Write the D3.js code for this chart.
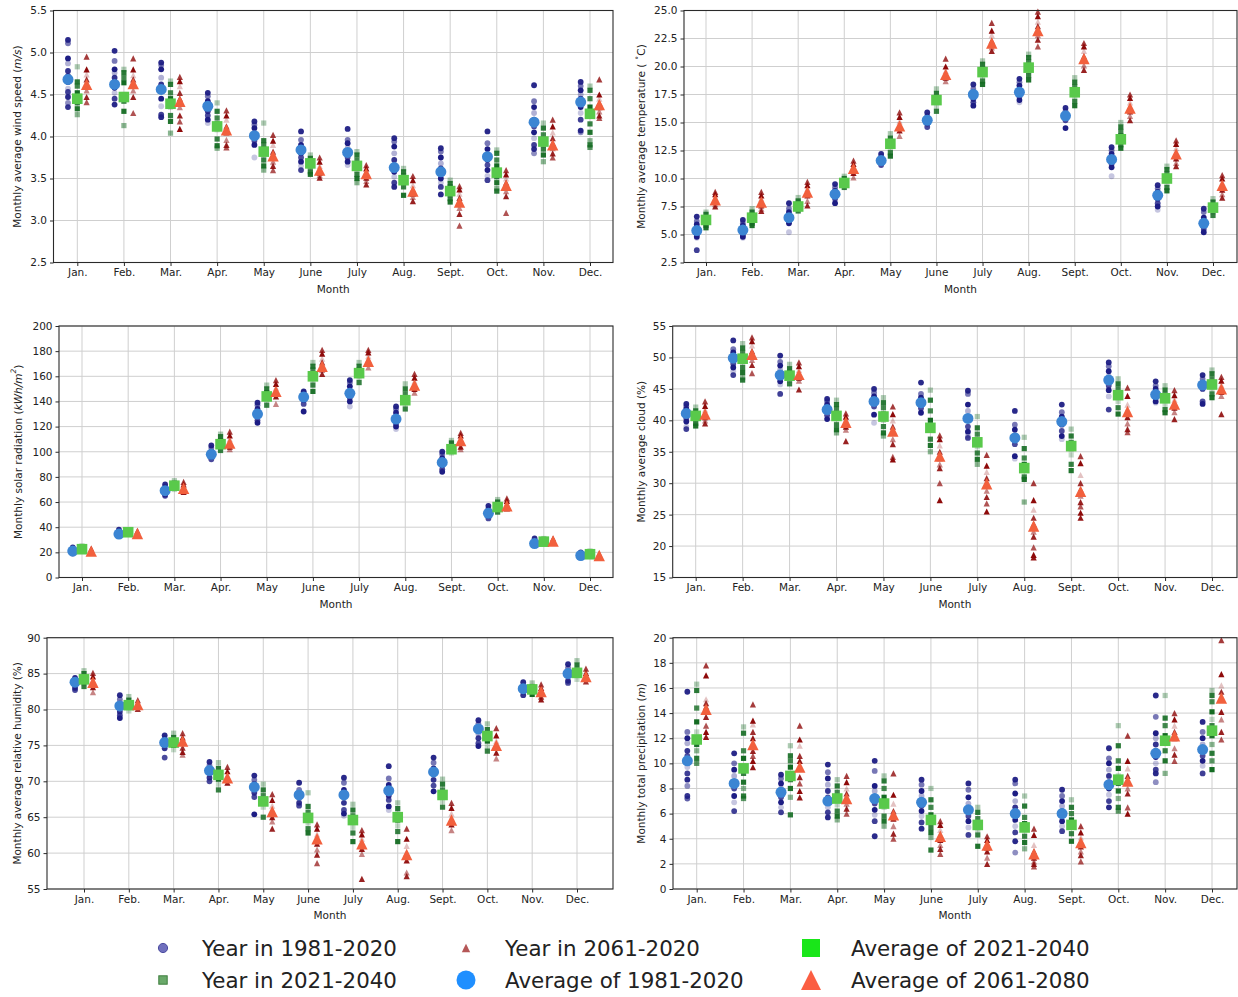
<!DOCTYPE html>
<html>
<head>
<meta charset="utf-8">
<script src="https://cdn.jsdelivr.net/npm/d3@7"></script>
<style>
  html, body { margin: 0; padding: 0; background: #fff; }
  svg text { font-family: "DejaVu Sans", sans-serif; fill: #222; }
</style>
</head>
<body>
<svg id="chart" width="1238" height="997"></svg>
<script>
// Month tick labels
const months = ["Jan.", "Feb.", "Mar.", "Apr.", "May", "June", "July", "Aug.", "Sept.", "Oct.", "Nov.", "Dec."];

// ---- Wind speed (m/s) ----
const windAvgPast = [4.68, 4.62, 4.56, 4.36, 4.01, 3.84, 3.81, 3.63, 3.58, 3.76, 4.17, 4.41];
const windAvgNear = [4.45, 4.47, 4.39, 4.12, 3.82, 3.68, 3.65, 3.48, 3.35, 3.57, 3.94, 4.27];
const windAvgFar  = [4.62, 4.63, 4.42, 4.08, 3.77, 3.60, 3.56, 3.35, 3.22, 3.42, 3.90, 4.38];
const windPast = [
  [5.15, 5.11, 4.93, 4.87, 4.78, 4.72, 4.65, 4.57, 4.53, 4.47, 4.40, 4.35],
  [5.02, 4.90, 4.80, 4.76, 4.70, 4.65, 4.58, 4.52, 4.45, 4.38],
  [4.88, 4.85, 4.80, 4.70, 4.62, 4.55, 4.45, 4.36, 4.26, 4.23],
  [4.52, 4.48, 4.42, 4.35, 4.30, 4.25, 4.20, 4.16],
  [4.18, 4.14, 4.10, 4.05, 4.00, 3.95, 3.90, 3.75],
  [4.06, 3.96, 3.90, 3.85, 3.80, 3.75, 3.70, 3.65, 3.60],
  [4.09, 3.96, 3.92, 3.86, 3.80, 3.75, 3.70, 3.66],
  [3.98, 3.94, 3.88, 3.80, 3.72, 3.65, 3.58, 3.52, 3.45, 3.40],
  [3.86, 3.82, 3.75, 3.68, 3.62, 3.55, 3.50, 3.45, 3.40, 3.31],
  [4.06, 3.92, 3.85, 3.78, 3.72, 3.66, 3.60, 3.53, 3.48],
  [4.61, 4.42, 4.35, 4.28, 4.20, 4.12, 4.05, 3.98, 3.90, 3.85, 3.80],
  [4.65, 4.60, 4.55, 4.50, 4.45, 4.40, 4.35, 4.28, 4.20, 4.07, 4.05]
];
const windNear = [
  [4.83, 4.65, 4.60, 4.52, 4.45, 4.40, 4.33, 4.26],
  [4.80, 4.76, 4.70, 4.64, 4.50, 4.42, 4.30, 4.13],
  [4.66, 4.62, 4.52, 4.45, 4.35, 4.25, 4.18, 4.04],
  [4.40, 4.30, 4.22, 4.15, 4.08, 3.97, 3.89, 3.86],
  [4.16, 3.95, 3.90, 3.85, 3.78, 3.72, 3.65, 3.60],
  [3.78, 3.74, 3.70, 3.65, 3.62, 3.58, 3.55],
  [3.82, 3.78, 3.72, 3.66, 3.60, 3.55, 3.50, 3.45],
  [3.62, 3.58, 3.53, 3.49, 3.45, 3.40, 3.30],
  [3.48, 3.44, 3.40, 3.35, 3.30, 3.26, 3.22],
  [3.84, 3.80, 3.72, 3.65, 3.58, 3.52, 3.45, 3.38, 3.35],
  [4.16, 4.10, 4.02, 3.95, 3.90, 3.85, 3.78, 3.70],
  [4.60, 4.55, 4.45, 4.35, 4.25, 4.15, 4.05, 3.95, 3.90, 3.87]
];
const windFar = [
  [4.95, 4.80, 4.74, 4.68, 4.60, 4.55, 4.47, 4.41],
  [4.93, 4.80, 4.73, 4.68, 4.62, 4.55, 4.47, 4.28],
  [4.71, 4.66, 4.60, 4.52, 4.45, 4.35, 4.25, 4.18, 4.09],
  [4.31, 4.25, 4.20, 4.12, 4.05, 3.96, 3.90, 3.87],
  [4.02, 3.95, 3.90, 3.82, 3.75, 3.70, 3.65, 3.60],
  [3.75, 3.70, 3.65, 3.60, 3.57, 3.54, 3.51],
  [3.66, 3.62, 3.58, 3.55, 3.51, 3.47, 3.43],
  [3.53, 3.48, 3.42, 3.37, 3.32, 3.28, 3.23],
  [3.41, 3.37, 3.32, 3.27, 3.22, 3.15, 3.08, 2.94],
  [3.60, 3.55, 3.50, 3.45, 3.40, 3.35, 3.29, 3.09],
  [4.20, 4.12, 4.05, 3.98, 3.92, 3.86, 3.80, 3.75],
  [4.68, 4.50, 4.45, 4.40, 4.35, 4.30, 4.25, 4.22]
];

// ---- Temperature (°C) ----
const tempAvgPast = [5.35, 5.4, 6.5, 8.6, 11.6, 15.2, 17.5, 17.7, 15.6, 11.7, 8.5, 6.0];
const tempAvgNear = [6.3, 6.5, 7.5, 9.6, 13.1, 17.0, 19.5, 19.9, 17.7, 13.5, 10.0, 7.4];
const tempAvgFar  = [8.1, 7.9, 8.8, 10.9, 14.7, 19.3, 22.1, 23.2, 20.7, 16.3, 12.2, 9.4];
const tempPast = [
  [6.6, 6.2, 5.9, 5.6, 5.3, 5.0, 4.8, 4.7, 3.6],
  [6.3, 6.0, 5.8, 5.5, 5.3, 5.0, 4.8, 4.7],
  [7.8, 7.3, 7.0, 6.8, 6.5, 6.2, 6.0, 5.2],
  [9.5, 9.2, 8.9, 8.6, 8.4, 8.2, 7.8],
  [12.2, 12.0, 11.8, 11.6, 11.4, 11.2],
  [15.9, 15.6, 15.3, 15.1, 14.9, 14.6],
  [18.4, 18.0, 17.7, 17.4, 17.1, 16.8, 16.5],
  [18.9, 18.6, 18.3, 17.9, 17.6, 17.3, 17.0, 16.8],
  [16.3, 16.0, 15.8, 15.6, 15.4, 15.2, 14.5],
  [12.8, 12.5, 12.2, 11.9, 11.6, 11.3, 11.0, 10.2],
  [9.4, 9.1, 8.8, 8.5, 8.2, 7.8, 7.5, 7.2],
  [7.3, 7.0, 6.5, 6.1, 5.8, 5.5, 5.2]
];
const tempNear = [
  [7.0, 6.8, 6.5, 6.2, 6.0, 5.8, 5.6],
  [7.3, 7.0, 6.8, 6.5, 6.2, 6.0, 5.8],
  [8.3, 8.0, 7.8, 7.5, 7.3, 7.1],
  [10.2, 10.0, 9.8, 9.6, 9.4, 9.2],
  [14.0, 13.6, 13.3, 13.0, 12.7, 12.3, 12.0],
  [18.0, 17.6, 17.2, 16.8, 16.4, 16.0],
  [20.5, 20.2, 19.8, 19.5, 19.1, 18.7, 18.4],
  [21.1, 20.8, 20.4, 20.0, 19.6, 19.2, 18.8],
  [19.0, 18.6, 18.2, 17.8, 17.4, 16.9, 16.5],
  [15.0, 14.6, 14.2, 13.8, 13.4, 13.0, 12.7],
  [11.1, 10.8, 10.4, 10.0, 9.6, 9.2, 8.9],
  [8.2, 7.9, 7.6, 7.3, 7.0, 6.7]
];
const tempFar = [
  [8.8, 8.6, 8.3, 8.1, 7.9, 7.7, 7.5],
  [8.8, 8.5, 8.2, 7.9, 7.6, 7.3, 7.1],
  [9.7, 9.4, 9.1, 8.8, 8.5, 8.0, 7.6],
  [11.6, 11.3, 11.0, 10.8, 10.5, 10.1],
  [15.9, 15.5, 15.1, 14.7, 14.3, 13.8],
  [20.7, 20.0, 19.6, 19.3, 19.0, 18.7],
  [23.9, 23.2, 22.8, 22.3, 22.0, 21.7, 21.4],
  [24.9, 24.5, 24.0, 23.6, 23.2, 22.8, 22.4, 21.8],
  [22.1, 21.8, 21.4, 20.9, 20.5, 20.1, 19.7],
  [17.5, 17.2, 16.8, 16.4, 16.0, 15.6, 15.2],
  [13.4, 13.1, 12.7, 12.3, 11.8, 11.4, 11.1],
  [10.3, 10.0, 9.6, 9.3, 9.0, 8.6, 8.3]
];

// ---- Solar radiation (kWh/m²) ----
const solarAvgPast = [21, 34.5, 69, 98, 130, 143.5, 146.5, 126, 91.5, 51, 27, 17.5];
const solarAvgNear = [22.5, 36, 73, 106, 144, 160, 162.5, 141, 102, 56, 28.5, 18.5];
const solarAvgFar  = [21, 35, 71, 107, 148, 168, 172, 153, 109, 57, 29, 17.5];
const solarPast = [
  [24, 23, 22, 21, 20, 19],
  [38, 36, 35, 34, 33],
  [74, 72, 70, 68, 66, 65],
  [105, 103, 100, 98, 96, 94],
  [139, 137, 134, 131, 128, 125, 123],
  [148, 147, 145, 143, 141, 138, 132],
  [157, 155, 152, 149, 146, 143, 140, 136],
  [136, 134, 131, 128, 125, 122, 120, 118],
  [100, 98, 95, 92, 89, 86, 84],
  [57, 55, 53, 51, 49, 47],
  [31, 29, 28, 27, 26],
  [20, 19, 18, 17, 16]
];
const solarNear = [
  [25, 24, 23, 22, 21],
  [38, 37, 36, 35],
  [77, 75, 73, 71, 70],
  [114, 112, 109, 106, 103, 101],
  [153, 150, 147, 144, 141, 137],
  [171, 168, 165, 161, 157, 153, 148],
  [171, 168, 165, 162, 159, 155],
  [154, 150, 146, 142, 138, 134],
  [109, 107, 104, 101, 99],
  [62, 60, 58, 56, 54, 52],
  [31, 30, 29, 28],
  [21, 20, 19, 18]
];
const solarFar = [
  [23, 22, 21, 20],
  [37, 36, 35, 34],
  [76, 74, 72, 70, 68],
  [116, 113, 110, 107, 104, 102],
  [157, 154, 151, 148, 144, 138],
  [181, 178, 174, 171, 168, 165, 162],
  [181, 179, 176, 173, 170, 167],
  [162, 159, 156, 153, 150, 147],
  [115, 113, 110, 107, 104, 102],
  [63, 61, 59, 57, 55],
  [31, 30, 29, 28],
  [19, 18, 17]
];

// ---- Cloud cover (%) ----
const cloudAvgPast = [41.1, 49.9, 47.2, 41.7, 43.0, 42.8, 40.3, 37.2, 39.8, 46.4, 44.1, 45.6];
const cloudAvgNear = [40.7, 49.8, 47.1, 40.7, 40.6, 38.8, 36.5, 32.4, 35.9, 44.0, 43.5, 45.7];
const cloudAvgFar  = [41.0, 50.5, 47.3, 39.7, 38.3, 34.3, 29.9, 23.2, 28.7, 41.4, 42.6, 45.0];
const cloudPast = [
  [42.6, 42.2, 41.8, 41.3, 40.8, 40.3, 39.8, 39.0, 38.6],
  [52.7, 51.3, 50.8, 50.2, 49.6, 49.0, 48.4, 47.8, 47.2],
  [50.3, 49.3, 48.7, 48.0, 47.4, 46.8, 46.2, 45.7, 44.2],
  [43.4, 43.0, 42.5, 42.0, 41.4, 40.8, 40.2],
  [45.0, 44.4, 43.8, 43.3, 42.8, 42.2, 40.9, 39.6],
  [46.0, 44.2, 43.6, 43.0, 42.4, 41.9, 41.2],
  [44.7, 44.2, 42.5, 41.5, 40.2, 39.0, 38.2, 37.6, 37.2],
  [41.5, 39.3, 38.5, 37.6, 36.8, 36.2, 34.3, 33.9],
  [42.5, 41.3, 40.6, 40.0, 39.3, 38.3, 37.5, 37.0],
  [49.2, 48.6, 47.8, 47.0, 46.2, 45.5, 44.8, 43.8, 41.7],
  [46.2, 45.5, 45.0, 44.5, 44.0, 43.5, 43.0, 42.8],
  [47.2, 46.6, 46.0, 45.5, 45.0, 43.0, 42.6]
];
const cloudNear = [
  [42.1, 41.5, 41.0, 40.5, 40.0, 39.5, 39.1],
  [52.2, 51.5, 50.8, 50.0, 49.2, 48.4, 47.6, 46.8, 46.4],
  [48.9, 48.2, 47.6, 47.0, 46.4, 45.8],
  [43.2, 42.5, 41.8, 41.0, 40.2, 39.3, 38.5, 38.0],
  [43.6, 42.8, 42.0, 41.0, 40.0, 39.0, 38.0, 37.5],
  [44.8, 43.2, 41.5, 40.0, 38.5, 37.0, 36.0, 35.0],
  [40.6, 38.8, 37.8, 36.8, 35.8, 34.8, 33.8, 33.0],
  [37.3, 35.5, 34.0, 33.0, 32.0, 31.0, 30.6, 27.0],
  [38.6, 37.5, 36.5, 35.5, 34.5, 33.0, 32.0],
  [46.6, 45.8, 45.0, 44.0, 43.0, 42.0, 41.0],
  [45.5, 44.8, 44.0, 43.3, 42.5, 41.7, 41.2],
  [48.0, 47.4, 46.6, 45.8, 45.0, 44.2, 43.6]
];
const cloudFar = [
  [43.0, 42.3, 41.7, 41.0, 40.5, 40.0, 39.5],
  [53.2, 52.6, 51.9, 51.0, 50.3, 49.6, 48.8, 47.5],
  [49.2, 48.6, 48.0, 47.4, 46.8, 46.3, 44.9],
  [41.1, 40.6, 40.1, 39.6, 39.0, 38.5, 36.7],
  [42.2, 41.0, 40.0, 39.0, 38.0, 37.0, 36.2, 34.2, 33.8],
  [37.6, 37.0, 36.0, 35.0, 34.0, 33.0, 32.4, 30.0, 27.3],
  [34.5, 32.8, 31.8, 30.8, 29.8, 28.8, 27.8, 26.8, 25.5],
  [30.0, 27.3, 25.8, 24.5, 23.5, 22.3, 21.5, 19.8, 18.6, 18.2],
  [34.3, 33.2, 31.3, 30.0, 29.0, 28.0, 27.0, 26.3, 25.3, 24.5],
  [45.2, 43.9, 42.5, 41.5, 40.5, 39.5, 38.6, 38.1],
  [44.8, 44.0, 43.3, 42.6, 42.0, 41.3, 40.2],
  [46.9, 46.3, 45.6, 45.0, 44.5, 43.9, 41.0]
];

// ---- Relative humidity (%) ----
const humAvgPast = [83.8, 80.5, 75.4, 71.5, 69.2, 68.1, 68.1, 68.7, 71.3, 77.3, 82.9, 85.0];
const humAvgNear = [84.2, 80.6, 75.4, 70.9, 67.2, 64.9, 64.6, 65.0, 68.1, 76.3, 82.8, 85.1];
const humAvgFar  = [83.8, 80.7, 75.6, 70.5, 65.8, 62.0, 61.3, 59.8, 64.6, 75.0, 82.5, 84.6];
const humPast = [
  [84.4, 84.1, 83.7, 83.3, 83.0, 82.7],
  [82.0, 81.4, 80.8, 80.2, 79.7, 79.2, 78.8],
  [76.4, 76.0, 75.5, 75.0, 74.6, 73.3],
  [72.7, 72.2, 71.5, 71.0, 70.5, 70.0],
  [70.8, 70.2, 69.6, 69.0, 68.4, 67.8, 65.4],
  [69.8, 68.8, 68.2, 67.6, 67.0, 66.6],
  [70.5, 69.8, 68.8, 68.0, 67.0, 66.0, 65.5, 65.2],
  [72.1, 70.4, 69.5, 68.8, 68.0, 67.4, 66.5, 66.0],
  [73.3, 72.6, 71.8, 71.0, 70.2, 69.4, 68.6],
  [78.5, 78.0, 77.3, 76.6, 76.0, 75.3, 74.9],
  [83.8, 83.3, 82.8, 82.4, 82.0],
  [86.3, 85.8, 85.2, 84.6, 84.0, 83.7]
];
const humNear = [
  [85.4, 85.0, 84.5, 84.0, 83.6, 83.2],
  [81.8, 81.3, 80.8, 80.3, 79.8],
  [76.7, 76.1, 75.5, 75.0, 74.4],
  [72.6, 71.8, 71.0, 70.3, 69.6, 68.8],
  [69.6, 68.8, 68.0, 67.2, 66.4, 65.0],
  [68.4, 66.5, 65.7, 65.0, 64.2, 63.4, 62.8],
  [66.8, 66.0, 65.2, 64.4, 63.6, 62.8, 61.6],
  [67.0, 66.2, 65.4, 64.6, 63.8, 63.0, 61.6],
  [70.3, 69.6, 68.8, 68.0, 67.2, 66.4],
  [78.0, 77.2, 76.4, 75.6, 74.8, 74.2],
  [83.7, 83.2, 82.6, 82.1],
  [86.8, 86.2, 85.5, 84.8, 84.2]
];
const humFar = [
  [85.1, 84.6, 84.0, 83.5, 83.1, 82.4],
  [81.3, 80.9, 80.5, 80.1],
  [76.7, 76.1, 75.4, 74.7, 74.1, 73.7],
  [72.0, 71.4, 70.8, 70.3, 69.8],
  [68.2, 67.4, 66.6, 65.8, 65.0, 64.4, 63.4],
  [64.0, 63.4, 62.6, 62.0, 61.3, 60.5, 59.8, 58.6],
  [63.2, 62.6, 62.0, 61.3, 60.6, 59.9, 56.4],
  [63.4, 62.0, 61.0, 60.0, 59.0, 57.3, 56.8],
  [67.0, 66.3, 65.5, 64.7, 64.0, 63.2],
  [77.4, 76.4, 75.6, 74.8, 74.0, 73.2],
  [83.5, 83.0, 82.4, 81.8, 81.4],
  [85.7, 85.1, 84.5, 83.9]
];

// ---- Precipitation (m) ----
const precAvgPast = [10.2, 8.4, 7.7, 7.0, 7.2, 6.9, 6.3, 6.0, 6.0, 8.3, 10.8, 11.1];
const precAvgNear = [11.9, 9.6, 9.0, 7.2, 6.8, 5.5, 5.1, 4.9, 5.1, 8.7, 11.8, 12.6];
const precAvgFar  = [14.3, 11.5, 9.7, 7.2, 5.9, 4.2, 3.5, 2.8, 3.7, 8.6, 12.2, 15.2];
const precPast = [
  [15.7, 12.5, 12.0, 11.6, 11.0, 10.6, 10.2, 9.7, 9.2, 8.7, 8.2, 7.4, 7.2],
  [10.8, 10.0, 9.5, 9.0, 8.5, 8.0, 7.4, 6.9, 6.2],
  [9.1, 8.8, 8.4, 8.0, 7.7, 7.3, 6.9, 6.5, 6.1],
  [9.9, 9.3, 8.8, 8.3, 7.8, 7.3, 6.9, 6.5, 6.1, 5.7],
  [10.2, 9.4, 8.2, 7.8, 7.2, 6.8, 6.3, 5.9, 5.4, 4.2],
  [8.7, 8.3, 7.8, 7.4, 7.0, 6.6, 6.2, 5.8, 5.3, 4.8],
  [8.4, 7.9, 7.3, 6.8, 6.3, 5.8, 5.4, 4.9, 4.3],
  [8.7, 8.4, 7.6, 7.0, 6.5, 6.0, 5.5, 5.0, 4.5, 3.8, 2.9],
  [7.9, 7.4, 7.0, 6.6, 6.2, 5.8, 5.4, 5.0, 4.6],
  [11.2, 10.4, 10.0, 9.5, 9.0, 8.5, 8.0, 7.5, 7.0, 6.5],
  [15.4, 13.7, 12.4, 12.0, 11.5, 11.0, 10.5, 10.0, 9.5, 9.2, 8.5],
  [13.3, 12.5, 12.0, 11.5, 11.0, 10.6, 10.2, 9.8, 9.2]
];
const precNear = [
  [16.3, 15.8, 14.4, 13.3, 12.5, 12.0, 11.5, 11.0, 10.4, 10.0],
  [12.9, 12.4, 11.0, 10.4, 9.8, 9.2, 8.5, 8.0, 7.4, 7.2],
  [11.4, 10.6, 10.2, 9.7, 9.2, 8.7, 8.0, 7.3, 5.9],
  [8.7, 8.2, 7.7, 7.2, 6.7, 6.2, 5.8, 5.5],
  [9.0, 8.6, 8.0, 7.3, 6.5, 5.8, 5.4, 5.0],
  [8.0, 7.1, 6.5, 5.9, 5.4, 4.9, 4.5, 4.1, 3.1],
  [6.5, 6.1, 5.6, 5.1, 4.7, 4.3, 3.4],
  [7.4, 6.6, 5.7, 5.2, 4.7, 4.2, 3.7, 3.2],
  [7.1, 6.5, 6.0, 5.5, 5.0, 4.4, 3.8],
  [13.0, 11.4, 10.2, 9.6, 9.0, 8.4, 7.8, 7.2, 6.5, 6.2],
  [15.4, 13.6, 13.0, 12.2, 11.6, 11.0, 10.2, 9.2],
  [15.8, 15.4, 14.9, 14.1, 13.5, 13.0, 12.2, 11.5, 10.8, 10.2, 9.5]
];
const precFar = [
  [17.8, 17.0, 15.1, 14.8, 14.5, 14.1, 13.7, 13.0, 12.5, 12.1],
  [14.7, 13.4, 13.1, 12.5, 12.0, 11.5, 11.0, 10.6, 10.2, 9.7],
  [13.0, 11.9, 11.4, 10.6, 10.2, 9.6, 8.9, 8.4, 7.8, 7.3],
  [9.0, 8.5, 8.0, 7.6, 7.2, 6.8, 6.4, 6.0],
  [9.2, 7.5, 6.8, 6.2, 5.6, 5.0, 4.4, 4.0],
  [5.4, 5.1, 4.7, 4.3, 3.9, 3.5, 3.2, 2.8],
  [4.2, 3.9, 3.6, 3.3, 3.0, 2.5, 2.0],
  [4.8, 4.3, 3.5, 3.0, 2.5, 2.2, 2.0, 1.8],
  [5.0, 4.5, 4.1, 3.8, 3.4, 3.0, 2.7, 2.2],
  [12.2, 10.2, 9.6, 9.0, 8.5, 8.0, 7.6, 6.5, 6.0],
  [14.0, 13.5, 13.0, 12.5, 12.0, 11.2, 10.7, 10.2],
  [19.8, 17.1, 16.2, 15.7, 14.1, 13.5, 12.5, 11.9]
];

// Legend entries
const legendLabels = [
  "Year in 1981-2020", "Year in 2061-2020", "Average of 2021-2040",
  "Year in 2021-2040", "Average of 1981-2020", "Average of 2061-2080"
];

// ---------------- drawing ----------------
const svg = d3.select("#chart");

// Per-year shading (year points fade from light to dark within each period)
const yearOpacity = [0.95, 0.6, 1.0, 0.35, 0.9, 0.8, 1.0, 0.25, 0.85, 0.95, 0.5, 0.9, 0.7, 1.0];

const style = {
  pastYear: "#1d1d84",
  nearYear: "#146b22",
  farYear: "#8e0a0a",
  pastAvg: "#3b85d3",
  nearAvg: "#59c94b",
  farAvg: "#f2603d",
  grid: "#cfcfcf",
  frame: "#2a2a2a"
};

const panels = [
  {
    box: { x0: 53.5, x1: 613, y0: 10.5, y1: 262.5 }, janX: 77.3, decX: 590, labelX: 17,
    domain: [2.5, 5.5], step: 0.5, fmt: d3.format(".1f"),
    label: [{ t: "Monthly average wind speed (" }, { t: "m/s", it: true }, { t: ")" }],
    past: windPast, near: windNear, far: windFar,
    avgPast: windAvgPast, avgNear: windAvgNear, avgFar: windAvgFar
  },
  {
    box: { x0: 684, x1: 1237, y0: 10.5, y1: 262.5 }, janX: 706, decX: 1213, labelX: 641,
    domain: [2.5, 25], step: 2.5, fmt: d3.format(".1f"),
    label: [{ t: "Monthly average temperature ( " }, { t: "∘", sup: true }, { t: "C)" }],
    past: tempPast, near: tempNear, far: tempFar,
    avgPast: tempAvgPast, avgNear: tempAvgNear, avgFar: tempAvgFar
  },
  {
    box: { x0: 59, x1: 613, y0: 326, y1: 577.5 }, janX: 82, decX: 590, labelX: 18,
    domain: [0, 200], step: 20, fmt: d3.format("d"),
    label: [{ t: "Monthly solar radiation (" }, { t: "kWh/m", it: true }, { t: "2", it: true, sup: true }, { t: ")" }],
    past: solarPast, near: solarNear, far: solarFar,
    avgPast: solarAvgPast, avgNear: solarAvgNear, avgFar: solarAvgFar
  },
  {
    box: { x0: 672.7, x1: 1237, y0: 326, y1: 577.5 }, janX: 695.7, decX: 1212, labelX: 641,
    domain: [15, 55], step: 5, fmt: d3.format("d"),
    label: [{ t: "Monthly average cloud (%)" }],
    past: cloudPast, near: cloudNear, far: cloudFar,
    avgPast: cloudAvgPast, avgNear: cloudAvgNear, avgFar: cloudAvgFar
  },
  {
    box: { x0: 47, x1: 613, y0: 637.7, y1: 889 }, janX: 84, decX: 577, labelX: 17,
    domain: [55, 90], step: 5, fmt: d3.format("d"),
    label: [{ t: "Monthly average relative humidity (%)" }],
    past: humPast, near: humNear, far: humFar,
    avgPast: humAvgPast, avgNear: humAvgNear, avgFar: humAvgFar
  },
  {
    box: { x0: 673, x1: 1237, y0: 637.7, y1: 889 }, janX: 696.7, decX: 1212, labelX: 641,
    domain: [0, 20], step: 2, fmt: d3.format("d"),
    label: [{ t: "Monthly total precipitation (" }, { t: "m", it: true }, { t: ")" }],
    past: precPast, near: precNear, far: precFar,
    avgPast: precAvgPast, avgNear: precAvgNear, avgFar: precAvgFar
  }
];

const triPath = h => `M0,${-h}L${-h},${h}L${h},${h}Z`;

panels.forEach(p => {
  const b = p.box;
  const x = d3.scaleLinear().domain([0, 11]).range([p.janX, p.decX]);
  const y = d3.scaleLinear().domain(p.domain).range([b.y1, b.y0]);
  const off = 0.2;
  const ticks = d3.range(p.domain[0], p.domain[1] + p.step / 2, p.step);
  const g = svg.append("g");

  // grid
  g.append("g").selectAll("line.h").data(ticks).join("line")
    .attr("x1", b.x0).attr("x2", b.x1)
    .attr("y1", d => y(d)).attr("y2", d => y(d))
    .attr("stroke", style.grid).attr("stroke-width", 1);
  g.append("g").selectAll("line.v").data(months).join("line")
    .attr("x1", (d, i) => x(i)).attr("x2", (d, i) => x(i))
    .attr("y1", b.y0).attr("y2", b.y1)
    .attr("stroke", style.grid).attr("stroke-width", 1);

  // axes
  const xAxis = d3.axisBottom(x).tickValues(d3.range(12)).tickFormat(i => months[i]).tickSize(3.5).tickPadding(3);
  const yAxis = d3.axisLeft(y).tickValues(ticks).tickFormat(p.fmt).tickSize(3.5).tickPadding(3);
  const ax = g.append("g").attr("transform", `translate(0,${b.y1})`).call(xAxis);
  const ay = g.append("g").attr("transform", `translate(${b.x0},0)`).call(yAxis);
  [ax, ay].forEach(a => {
    a.select(".domain").remove();
    a.selectAll(".tick line").attr("stroke", style.frame);
    a.selectAll("text").attr("font-size", 10.5).attr("fill", "#222").attr("font-family", "DejaVu Sans");
  });

  const layer = g.append("g");
  const flat = (arr, shift) => arr.flatMap((vals, m) => vals.map((v, k) => ({ m, v, k, shift })));

  // yearly values
  layer.append("g").selectAll("circle").data(flat(p.past, -off)).join("circle")
    .attr("cx", d => x(d.m + d.shift)).attr("cy", d => y(d.v)).attr("r", 2.9)
    .attr("fill", style.pastYear).attr("fill-opacity", d => yearOpacity[d.k % yearOpacity.length]);
  layer.append("g").selectAll("rect").data(flat(p.near, 0)).join("rect")
    .attr("x", d => x(d.m) - 2.6).attr("y", d => y(d.v) - 2.6).attr("width", 5.2).attr("height", 5.2)
    .attr("fill", style.nearYear).attr("fill-opacity", d => yearOpacity[(d.k + 3) % yearOpacity.length]);
  layer.append("g").selectAll("path").data(flat(p.far, off)).join("path")
    .attr("transform", d => `translate(${x(d.m + d.shift)},${y(d.v)})`).attr("d", triPath(3.1))
    .attr("fill", style.farYear).attr("fill-opacity", d => yearOpacity[(d.k + 5) % yearOpacity.length]);

  // period averages
  layer.append("g").selectAll("circle").data(p.avgPast).join("circle")
    .attr("cx", (d, i) => x(i - off)).attr("cy", d => y(d)).attr("r", 5.5)
    .attr("fill", style.pastAvg);
  layer.append("g").selectAll("rect").data(p.avgNear).join("rect")
    .attr("x", (d, i) => x(i) - 5.3).attr("y", d => y(d) - 5.3).attr("width", 10.6).attr("height", 10.6)
    .attr("fill", style.nearAvg);
  layer.append("g").selectAll("path").data(p.avgFar).join("path")
    .attr("transform", (d, i) => `translate(${x(i + off)},${y(d)})`).attr("d", triPath(5.7))
    .attr("fill", style.farAvg);

  // frame
  g.append("rect").attr("x", b.x0).attr("y", b.y0).attr("width", b.x1 - b.x0).attr("height", b.y1 - b.y0)
    .attr("fill", "none").attr("stroke", style.frame).attr("stroke-width", 1.1);

  // axis titles
  g.append("text").attr("x", (b.x0 + b.x1) / 2).attr("y", b.y1 + 30)
    .attr("text-anchor", "middle").attr("font-size", 10.5).text("Month");
  const yl = g.append("text")
    .attr("transform", `translate(${p.labelX},${(b.y0 + b.y1) / 2}) rotate(-90)`)
    .attr("text-anchor", "middle").attr("dominant-baseline", "central").attr("font-size", 10.5);
  p.label.forEach(part => {
    const ts = yl.append("tspan").text(part.t);
    if (part.it) ts.attr("font-style", "italic");
    if (part.sup) ts.attr("font-size", 7.5).attr("baseline-shift", "super");
  });
});

// ---------------- legend ----------------
const lg = svg.append("g");
const colX = [163, 466, 811];
const textX = [202, 505, 851];
const rowY = [948, 980];
const legendItems = [
  { col: 0, row: 0, draw: s => s.append("circle").attr("r", 4.6).attr("fill", "#6f6fbd").attr("stroke", "#4b4ba0").attr("stroke-width", 1) },
  { col: 1, row: 0, draw: s => s.append("path").attr("d", triPath(4.2)).attr("fill", "#b55757") },
  { col: 2, row: 0, draw: s => s.append("rect").attr("x", -9).attr("y", -9).attr("width", 18).attr("height", 18).attr("fill", "#19e619") },
  { col: 0, row: 1, draw: s => s.append("rect").attr("x", -4.2).attr("y", -4.2).attr("width", 8.4).attr("height", 8.4).attr("fill", "#6aa96a").attr("stroke", "#3f7f3f").attr("stroke-width", 1) },
  { col: 1, row: 1, draw: s => s.append("circle").attr("r", 9.5).attr("fill", "#1f8fff") },
  { col: 2, row: 1, draw: s => s.append("path").attr("d", triPath(10)).attr("fill", "#fb5e42") }
];
legendItems.forEach((it, i) => {
  const s = lg.append("g").attr("transform", `translate(${colX[it.col]},${rowY[it.row]})`);
  it.draw(s);
  lg.append("text").attr("x", textX[it.col]).attr("y", rowY[it.row])
    .attr("dominant-baseline", "central").attr("font-size", 21.4).text(legendLabels[i]);
});
</script>
</body>
</html>
